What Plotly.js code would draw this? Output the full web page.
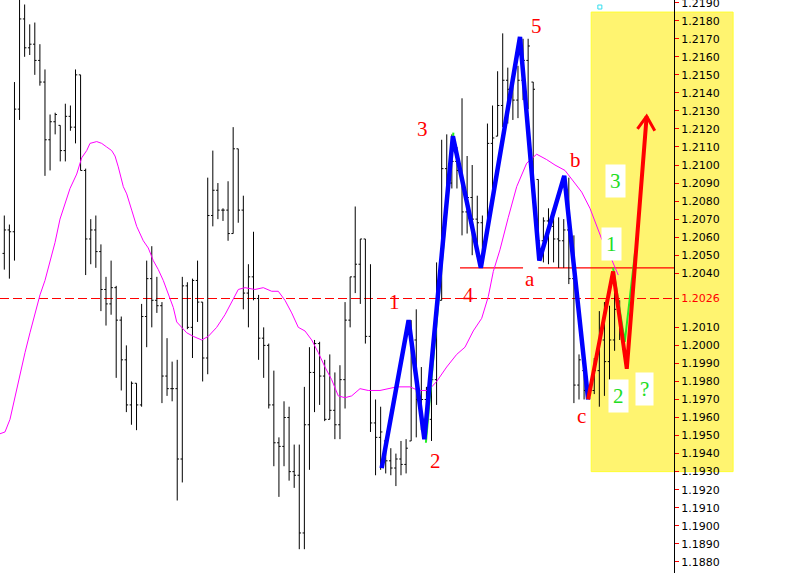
<!DOCTYPE html>
<html>
<head>
<meta charset="utf-8">
<script src="https://cdn.plot.ly/plotly-3.0.1.min.js"></script>
<style>html,body{margin:0;padding:0;background:#fff;}#chart{width:796px;height:573px;}</style>
</head>
<body>
<div id="chart"></div>
<script>
// ---- price bars (bar number, open, high, low, close) ----
const barOpen = [1.2051,1.2064,1.2063,1.2131,1.2181,1.2165,1.2167,1.2158,1.2146,1.2114,
1.2124,1.2122,1.2108,1.2127,1.2121,1.2150,1.2097,1.2059,1.2064,1.2052,
1.2031,1.2023,1.2032,1.2014,1.1992,1.1967,1.1979,1.1967,1.2016,1.2037,
1.2025,1.2022,1.1983,1.1976,1.1976,1.1937,1.2033,1.2010,1.2036,1.2024,
1.1993,1.2072,1.2086,1.2075,1.2075,1.2062,1.2109,1.2075,1.2029,1.2038,
1.2026,1.2004,1.2000,1.1967,1.1946,1.1944,1.1960,1.1930,1.1928,1.1896,
1.1956,1.1985,1.2001,1.1983,1.1959,1.1964,1.1956,1.1981,1.2014,1.2038,
1.2045,1.2059,1.2005,1.1957,1.1949,1.1947,1.1936,1.1932,1.1937,1.1934,
1.1947,1.2003,1.1970,1.1970,1.1959,1.1981,1.2025,1.2098,1.2090,1.2102,
1.2097,1.2074,1.2082,1.2070,1.2068,1.2062,1.2112,1.2116,1.2133,1.2147,
1.2142,1.2136,1.2147,1.2158,1.2146,1.2092,1.2058,1.2069,1.2066,1.2059,
1.2058,1.2064,1.2037,1.1978,1.1986,1.1975,1.1975,1.1986,1.2003,1.1991,
1.2003,1.2020];
const barHigh = [1.2072,1.2067,1.2146,1.2193,1.2189,1.2178,1.2179,1.2167,1.2153,1.2128,
1.2129,1.2122,1.2134,1.2133,1.2153,1.2150,1.2098,1.2070,1.2072,1.2056,
1.2038,1.2047,1.2033,1.2016,1.2000,1.1980,1.1979,1.2023,1.2047,1.2055,
1.2038,1.2024,1.2004,1.1991,1.1992,1.2038,1.2035,1.2037,1.2047,1.2024,
1.2093,1.2108,1.2090,1.2076,1.2091,1.2121,1.2109,1.2083,1.2045,1.2063,
1.2028,1.2010,1.2001,1.1986,1.1949,1.1969,1.1966,1.1945,1.1945,1.1977,
1.1999,1.2003,1.2002,1.1992,1.1995,1.1985,1.1989,1.2024,1.2038,1.2077,
1.2059,1.2059,1.2045,1.1970,1.1966,1.1947,1.1943,1.1940,1.1947,1.1948,
1.2014,1.2020,1.1988,1.1977,1.1987,1.2046,1.2114,1.2117,1.2117,1.2110,
1.2137,1.2105,1.2100,1.2083,1.2072,1.2123,1.2133,1.2152,1.2173,1.2154,
1.2148,1.2155,1.2170,1.2170,1.2146,1.2092,1.2071,1.2076,1.2071,1.2071,
1.2070,1.2093,1.2061,1.1995,1.1986,1.1978,1.1993,1.2019,1.2024,1.2022,
1.2041,1.2025];
const barLow = [1.2042,1.2037,1.2047,1.2125,1.2160,1.2161,1.2150,1.2144,1.2094,1.2097,
1.2117,1.2102,1.2102,1.2119,1.2112,1.2097,1.2039,1.2045,1.2043,1.2019,
1.2011,1.2017,1.1982,1.1975,1.1963,1.1956,1.1953,1.1966,1.1999,1.2010,
1.2018,1.1968,1.1972,1.1969,1.1914,1.1924,1.2009,1.1993,1.2013,1.1980,
1.1984,1.2066,1.2070,1.2069,1.2058,1.2062,1.2068,1.2020,1.2010,1.2025,
1.1992,1.1982,1.1965,1.1933,1.1916,1.1933,1.1925,1.1921,1.1887,1.1887,
1.1931,1.1963,1.1967,1.1958,1.1959,1.1948,1.1948,1.1965,1.2010,1.2029,
1.2023,1.2001,1.1952,1.1928,1.1931,1.1929,1.1928,1.1922,1.1928,1.1929,
1.1947,1.1949,1.1953,1.1947,1.1947,1.1967,1.2025,1.2087,1.2087,1.2087,
1.2061,1.2062,1.2050,1.2049,1.2043,1.2062,1.2077,1.2116,1.2121,1.2123,
1.2125,1.2126,1.2136,1.2131,1.2087,1.2050,1.2046,1.2045,1.2046,1.2043,
1.2043,1.2034,1.1968,1.1970,1.1970,1.1970,1.1973,1.1966,1.1972,1.1981,
1.1997,1.2003];
const barClose = [1.2064,1.2063,1.2131,1.2181,1.2165,1.2167,1.2158,1.2146,1.2114,1.2124,
1.2128,1.2108,1.2127,1.2121,1.2150,1.2097,1.2059,1.2064,1.2052,1.2031,
1.2023,1.2032,1.2014,1.1992,1.1967,1.1979,1.1967,1.2016,1.2037,1.2025,
1.2022,1.1983,1.1976,1.1976,1.1937,1.2033,1.2010,1.2036,1.2024,1.1993,
1.2072,1.2086,1.2075,1.2075,1.2062,1.2109,1.2075,1.2029,1.2038,1.2026,
1.2004,1.2000,1.1967,1.1946,1.1944,1.1960,1.1930,1.1928,1.1896,1.1956,
1.1985,1.2001,1.1983,1.1959,1.1964,1.1956,1.1981,1.2014,1.2038,1.2045,
1.2059,1.2005,1.1957,1.1949,1.1952,1.1936,1.1932,1.1937,1.1934,1.1943,
1.2003,1.1970,1.1970,1.1959,1.1981,1.2025,1.2098,1.2090,1.2102,1.2097,
1.2074,1.2082,1.2070,1.2068,1.2053,1.2112,1.2115,1.2133,1.2147,1.2142,
1.2136,1.2147,1.2158,1.2166,1.2142,1.2058,1.2069,1.2066,1.2059,1.2058,
1.2064,1.2037,1.1978,1.1992,1.1975,1.1975,1.1986,1.2003,1.1991,1.2003,
1.2020,1.2014];

// ---- moving average (bar position, value) ----
const maBar = [-0.85,0.14,1.12,1.97,3.09,4.07,5.05,6.04,7.02,8.00,8.99,9.97,10.95,11.93,12.92,14.24,15.22,16.2,16.85,18.17,
19.15,20.13,21.12,21.77,22.41,23.4,24.07,25.05,26.03,27.33,28.31,29.3,30.28,31.26,32.25,33.23,33.9,34.88,35.86,37.16,
38.81,40.11,41.76,43.39,44.71,46.01,47.33,49.29,50.92,52.58,53.87,55.19,56.51,57.81,59.12,60.44,61.74,63.05,64.37,65.67,
66.99,68.3,69.94,71.57,73.87,77.15,79.77,81.4,83.37,85.02,86.98,88.95,90.58,92.21,93.87,95.16,96.15,97.46,99.1,100.75,
102.71,104.68,106.65,108.28,110.25,111.88,113.53,115.16,116.48,117.46,118.76,119.74,120.72];
const maVal = [1.1951,1.1952,1.1959,1.1970,1.1985,1.1996,1.2007,1.2018,1.2028,1.2036,1.2047,1.2057,1.2070,1.2079,1.2087,1.2095,1.2104,1.2108,1.2112,1.2113,
1.2112,1.2110,1.2108,1.2105,1.2099,1.2088,1.2084,1.2075,1.2066,1.2058,1.2054,1.2047,1.2042,1.2036,1.2029,1.2021,1.2013,1.2010,1.2007,1.2005,
1.2003,1.2005,1.2010,1.2017,1.2024,1.2031,1.2032,1.2031,1.2032,1.2030,1.2030,1.2025,1.2018,1.2010,1.2008,1.2003,1.1996,1.1988,1.1981,1.1972,
1.1971,1.1972,1.1976,1.1975,1.1975,1.1977,1.1977,1.1975,1.1975,1.1980,1.1988,1.1995,1.1999,1.2008,1.2015,1.2027,1.2041,1.2053,1.2071,1.2088,
1.2101,1.2106,1.2103,1.2100,1.2097,1.2091,1.2085,1.2076,1.2066,1.2059,1.2052,1.2045,1.2039];

// ---- drawn wave counts ----
const blueBar = [74.2,79.5,82.6,88.2,93.7,101.4,105.2,110.1,114.8];
const blueVal = [1.1932,1.2014,1.1948,1.2116,1.2043,1.2171,1.2047,1.2094,1.1970];
const redBar = [114.8,119.7,122.4,126.3];
const redVal = [1.1970,1.2041,1.1987,1.2127];
const arrowBar = [124.5,126.3,127.9];
const arrowVal = [1.2120,1.2127,1.2119];
const greenBar = [119.7,122.0,124.0];
const greenVal = [1.2043,1.2002,1.2051];
const greenBar2 = [82.9,88.3];
const greenVal2 = [1.1946,1.2118];

// ---- levels / zone ----
const dashedLevel = 1.2026;
const lineLevel = 1.2043;
const lineSeg1 = [89.6,102.0];
const lineSeg2 = [105.0,140];
const zoneBars = [115.4,143.3];
const zoneVals = [1.1930,1.21848];
const markerBar = [117.1];
const markerVal = [1.21876];

// ---- labels ----
const redLabels = ['5','3','b','1','4','a','2','c'];
const redLabelBar = [104.7,82.2,112.4,76.7,91.2,103.4,84.7,113.5];
const redLabelVal = [1.2177,1.2120,1.2103,1.2024,1.2028,1.2037,1.1936,1.1961];
const greenLabels = ['3','1','2','?'];
const greenLabelBar = [120.1,119.3,120.7,125.8];
const greenLabelVal = [1.2091,1.2056,1.1972,1.1976];

// ---- axis ticks ----
const tickLabels = ['1.2190','1.2180','1.2170','1.2160','1.2150','1.2140','1.2130','1.2120','1.2110','1.2100',
'1.2090','1.2080','1.2070','1.2060','1.2050','1.2040','1.2026','1.2010','1.2000','1.1990','1.1980',
'1.1970','1.1960','1.1950','1.1940','1.1930','1.1920','1.1910','1.1900','1.1890','1.1880'];
const highlightTick = '1.2026';

const xr = [-0.845, 131.68];
const yr = [1.18738, 1.21915];
const px = v => (v - xr[0]) / (xr[1] - xr[0]);
const py = v => (v - yr[0]) / (yr[1] - yr[0]);

const barIdx = barClose.map((_, i) => i);

const traces = [
  {type:'ohlc', x:barIdx, open:barOpen, high:barHigh, low:barLow, close:barClose,
   increasing:{line:{color:'#000000', width:1}}, decreasing:{line:{color:'#000000', width:1}},
   tickwidth:0.35, hoverinfo:'skip', showlegend:false},
  {type:'scatter', mode:'lines', x:maBar, y:maVal, line:{color:'#FF00FF', width:1}, hoverinfo:'skip', showlegend:false},
  {type:'scatter', mode:'lines', x:greenBar2, y:greenVal2, line:{color:'#22EE22', width:2}, hoverinfo:'skip', showlegend:false},
  {type:'scatter', mode:'lines', x:blueBar, y:blueVal, line:{color:'#0000FF', width:4.5}, hoverinfo:'skip', showlegend:false},
  {type:'scatter', mode:'lines', x:greenBar, y:greenVal, line:{color:'#22EE22', width:2}, hoverinfo:'skip', showlegend:false},
  {type:'scatter', mode:'lines', x:redBar, y:redVal, line:{color:'#FF0000', width:4}, hoverinfo:'skip', showlegend:false},
  {type:'scatter', mode:'lines', x:arrowBar, y:arrowVal, line:{color:'#FF0000', width:3}, hoverinfo:'skip', showlegend:false},
  {type:'scatter', mode:'markers', x:markerBar, y:markerVal, marker:{symbol:'square-open', size:4, color:'#33DDEE', line:{width:1}}, hoverinfo:'skip', showlegend:false}
];

const shapes = [
  {type:'rect', xref:'paper', yref:'paper', x0:px(zoneBars[0]), x1:px(zoneBars[1]), y0:py(zoneVals[0]), y1:py(zoneVals[1]),
   fillcolor:'#FFF470', line:{color:'#FFFF30', width:1}, layer:'below'},
  {type:'line', xref:'paper', yref:'y', x0:0, x1:1, y0:dashedLevel, y1:dashedLevel,
   line:{color:'#FF0000', width:1.2, dash:'9px,4px'}, layer:'below'},
  {type:'line', xref:'x', yref:'y', x0:lineSeg1[0], x1:lineSeg1[1], y0:lineLevel, y1:lineLevel,
   line:{color:'#FF0000', width:1.2}, layer:'below'},
  {type:'line', xref:'x', yref:'y', x0:lineSeg2[0], x1:lineSeg2[1], y0:lineLevel, y1:lineLevel,
   line:{color:'#FF0000', width:1.2}, layer:'below'}
];

const annotations = [];
redLabels.forEach((t, k) => annotations.push({x:redLabelBar[k], y:redLabelVal[k], xref:'x', yref:'y', text:t, showarrow:false,
  font:{family:'Liberation Serif, Times New Roman, serif', size:21, color:'#FF0000'}}));
greenLabels.forEach((t, k) => annotations.push({x:greenLabelBar[k], y:greenLabelVal[k], xref:'x', yref:'y', text:t, showarrow:false,
  bgcolor:'#FFFFFF', borderpad:4,
  font:{family:'Liberation Serif, Times New Roman, serif', size:21, color:'#22DD22'}}));

const layout = {
  width:796, height:573,
  margin:{l:0, r:122, t:0, b:0},
  paper_bgcolor:'#FFFFFF', plot_bgcolor:'#FFFFFF',
  showlegend:false,
  xaxis:{range:xr, visible:false, rangeslider:{visible:false}, fixedrange:true},
  yaxis:{range:yr, side:'right', showgrid:false, zeroline:false, showline:true, linecolor:'#000000', linewidth:1,
    ticks:'outside', ticklen:4, tickcolor:'#FF0000', tickwidth:1, ticklabeloverflow:'allow',
    tickvals:tickLabels.map(Number),
    ticktext:tickLabels.map(t => t === highlightTick ? '<span style="color:#FF0000">' + t + '</span>' : t),
    tickfont:{family:'DejaVu Sans, sans-serif', size:11, color:'#000000'}, fixedrange:true},
  shapes:shapes,
  annotations:annotations
};

Plotly.newPlot('chart', traces, layout, {staticPlot:true, displayModeBar:false});
</script>
</body>
</html>
